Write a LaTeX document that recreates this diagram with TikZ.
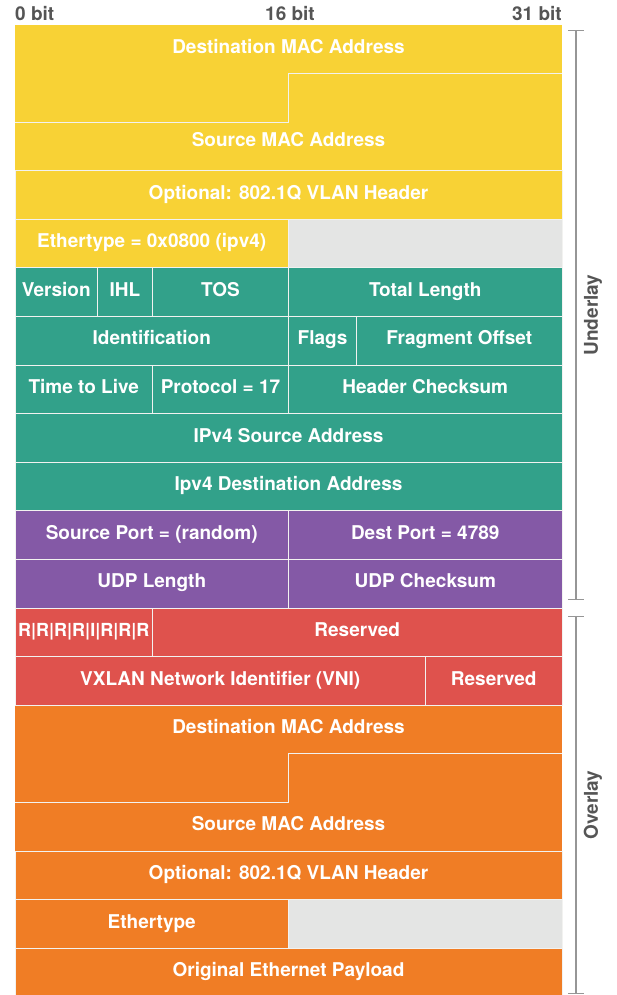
\documentclass[tikz,border=0pt]{standalone}
\usepackage{fontspec}
\setmainfont{TeX Gyre Heros}
\definecolor{macyellow}{RGB}{248,210,53}
\definecolor{ipteal}{RGB}{50,161,138}
\definecolor{udppurple}{RGB}{132,89,166}
\definecolor{vxred}{RGB}{223,82,77}
\definecolor{inorange}{RGB}{240,125,37}
\definecolor{emptygray}{RGB}{228,229,228}
\definecolor{sepline}{RGB}{242,242,240}
\definecolor{captiongray}{RGB}{85,85,85}
\definecolor{bracketgray}{RGB}{150,150,150}
\def\toprow{24.8}
\def\rowh{48.6}
% left edge, middle (bit 16) and right edge of the header
\def\xl{15}
\def\xm{288.5}
\def\xr{562}
\tikzset{
  fieldtext/.style={text=white, font=\bfseries\fontsize{19}{22}\selectfont,
    anchor=base, inner sep=0pt},
  bittext/.style={text=captiongray, font=\bfseries\fontsize{19}{22}\selectfont,
    anchor=base, inner sep=0pt},
  sidetext/.style={text=captiongray, font=\bfseries\fontsize{19}{22}\selectfont,
    rotate=90, inner sep=0pt},
  cellborder/.style={draw=sepline, line width=0.9pt},
  bracketline/.style={draw=bracketgray, line width=1.4pt},
}
% #1 left x, #2 right x, #3 row index, #4 colour, #5 node name, #6 text
\newcommand\fieldcell[6]{%
  \filldraw[fill=#4, cellborder] (#1,{\toprow+#3*\rowh}) rectangle (#2,{\toprow+(#3+1)*\rowh});
  \node[fieldtext] (#5) at ({(#1+#2)/2},{\toprow+(#3+0.5)*\rowh+4.2}) {#6};
}
% empty (padding) cell
\newcommand\padcell[3]{%
  \filldraw[fill=emptygray, cellborder] (#1,{\toprow+#3*\rowh}) rectangle (#2,{\toprow+(#3+1)*\rowh});
}
% a 48-bit MAC pair spanning three rows starting at row #1, colour #2, node name #3
\newcommand\macpair[3]{%
  \fill[#2] (\xl,{\toprow+#1*\rowh}) rectangle (\xr,{\toprow+(#1+3)*\rowh});
  \draw[cellborder] (\xr,{\toprow+(#1+1)*\rowh}) -- (\xm,{\toprow+(#1+1)*\rowh})
    -- (\xm,{\toprow+(#1+2)*\rowh}) -- (\xl,{\toprow+(#1+2)*\rowh});
  \node[fieldtext] (#3) at ({(\xl+\xr)/2},{\toprow+(#1+0.5)*\rowh+4.2}) {Destination MAC Address};
}
\begin{document}
\begin{tikzpicture}[x=1pt, y=-1pt]
\useasboundingbox (0,0) rectangle (616,995);

% bit ruler
\node[bittext, anchor=base west] (bit0) at (\xl,20.5) {0 bit};
\node[bittext] (bit16) at (290,20.5) {16 bit};
\node[bittext, anchor=base east] (bit31) at (\xr,20.5) {31 bit};

% outer Ethernet header
\macpair{0}{macyellow}{odst}
\node[fieldtext] (osrc) at ({(\xl+\xr)/2},{\toprow+2.5*\rowh+0.2}) {Source MAC Address};
\fieldcell{\xl}{\xr}{3}{macyellow}{ovlan}{Optional: 802.1Q VLAN Header}
\fieldcell{\xl}{\xm}{4}{macyellow}{oeth}{Ethertype = 0x0800 (ipv4)}
\padcell{\xm}{\xr}{4}
\draw[cellborder] (\xl,{\toprow+3*\rowh}) -- (\xr,{\toprow+3*\rowh});

% outer IPv4 header
\fieldcell{\xl}{97.5}{5}{ipteal}{ver}{Version}
\fieldcell{97.5}{152.5}{5}{ipteal}{ihl}{IHL}
\fieldcell{152.5}{\xm}{5}{ipteal}{tos}{TOS}
\fieldcell{\xm}{\xr}{5}{ipteal}{tlen}{Total Length}
\fieldcell{\xl}{\xm}{6}{ipteal}{ident}{Identification}
\fieldcell{\xm}{356.5}{6}{ipteal}{flags}{Flags}
\fieldcell{356.5}{\xr}{6}{ipteal}{frag}{Fragment Offset}
\fieldcell{\xl}{152.5}{7}{ipteal}{ttl}{Time to Live}
\fieldcell{152.5}{\xm}{7}{ipteal}{proto}{Protocol = 17}
\fieldcell{\xm}{\xr}{7}{ipteal}{hcsum}{Header Checksum}
\fieldcell{\xl}{\xr}{8}{ipteal}{ipsrc}{IPv4 Source Address}
\fieldcell{\xl}{\xr}{9}{ipteal}{ipdst}{Ipv4 Destination Address}

% outer UDP header
\fieldcell{\xl}{\xm}{10}{udppurple}{sport}{Source Port = (random)}
\fieldcell{\xm}{\xr}{10}{udppurple}{dport}{Dest Port = 4789}
\fieldcell{\xl}{\xm}{11}{udppurple}{ulen}{UDP Length}
\fieldcell{\xm}{\xr}{11}{udppurple}{ucsum}{UDP Checksum}

% VXLAN header
\fieldcell{\xl}{152.5}{12}{vxred}{vflags}{\fontsize{18}{21}\selectfont R|R|R|R|I|R|R|R}
\fieldcell{152.5}{\xr}{12}{vxred}{vres1}{Reserved}
\fieldcell{\xl}{425.5}{13}{vxred}{vni}{VXLAN Network Identifier (VNI)}
\fieldcell{425.5}{\xr}{13}{vxred}{vres2}{Reserved}

% inner Ethernet frame
\macpair{14}{inorange}{idst}
\node[fieldtext] (isrc) at ({(\xl+\xr)/2},{\toprow+16.5*\rowh+4.2}) {Source MAC Address};
\fieldcell{\xl}{\xr}{17}{inorange}{ivlan}{Optional: 802.1Q VLAN Header}
\fieldcell{\xl}{\xm}{18}{inorange}{ieth}{Ethertype}
\padcell{\xm}{\xr}{18}
\fieldcell{\xl}{\xr}{19}{inorange}{payload}{Original Ethernet Payload}
\draw[cellborder] (\xl,{\toprow+17*\rowh}) -- (\xr,{\toprow+17*\rowh});
\draw[cellborder] (\xl,{\toprow+14*\rowh}) -- (\xr,{\toprow+14*\rowh});

% side brackets
\coordinate (utop) at (576,30.7);
\coordinate (ubot) at (576,599.3);
\coordinate (otop) at (576,616.7);
\coordinate (obot) at (576,993.3);
\draw[bracketline] ([xshift=-8pt]utop) -- ([xshift=8pt]utop);
\draw[bracketline] (utop) -- (ubot);
\draw[bracketline] ([xshift=-8pt]ubot) -- ([xshift=8pt]ubot);
\draw[bracketline] ([xshift=-8pt]otop) -- ([xshift=8pt]otop);
\draw[bracketline] (otop) -- (obot);
\draw[bracketline] ([xshift=-8pt]obot) -- ([xshift=8pt]obot);
\node[sidetext] (underlay) at (593,315) {Underlay};
\node[sidetext] (overlay) at (593,805) {Overlay};
\end{tikzpicture}
\end{document}
